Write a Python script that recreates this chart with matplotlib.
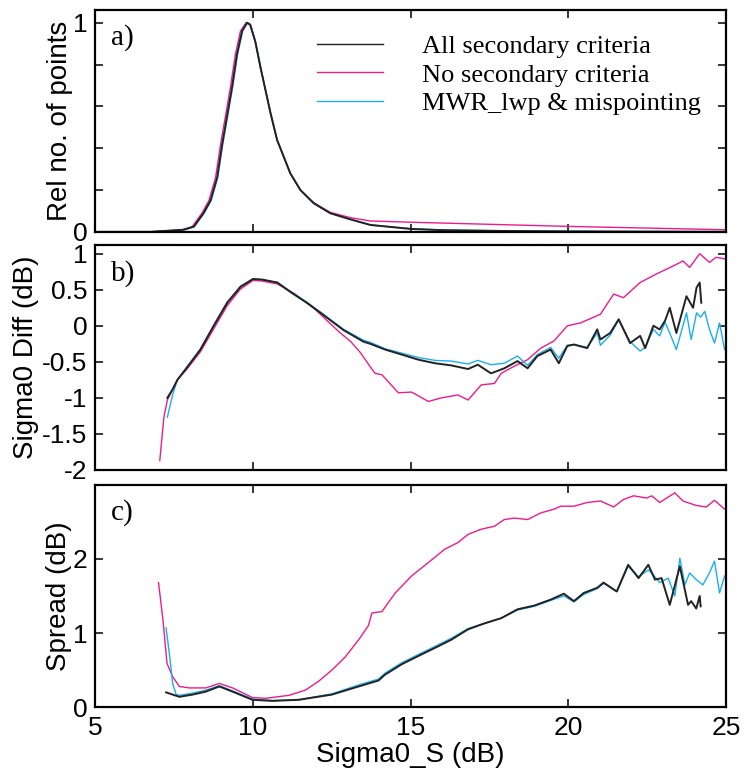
import matplotlib
matplotlib.use("Agg")
import matplotlib.pyplot as plt

# ---------------- data ----------------
# panel a: relative number of points
a_all_x = [5.0, 6.74, 7.8, 8.12, 8.43, 8.65, 8.86, 9.02, 9.17, 9.33, 9.49, 9.65, 9.81, 9.91, 10.07,
           10.23, 10.39, 10.55, 10.76, 10.97, 11.18, 11.5, 11.92, 12.45, 13.08, 13.72, 15.0, 16.0,
           18.0, 20.0, 22.0, 25.0]
a_all_y = [0.0, 0.0, 0.01, 0.025, 0.09, 0.15, 0.26, 0.42, 0.55, 0.69, 0.85, 0.96, 1.0, 0.99, 0.91,
           0.79, 0.68, 0.57, 0.44, 0.36, 0.28, 0.2, 0.137, 0.089, 0.06, 0.033, 0.014, 0.008,
           0.004, 0.002, 0.001, 0.0]
a_no_x = [5.0, 6.7, 7.75, 8.07, 8.38, 8.6, 8.81, 8.97, 9.12, 9.28, 9.44, 9.6, 9.78, 9.9, 10.07,
          10.23, 10.39, 10.55, 10.76, 10.97, 11.18, 11.5, 11.92, 12.45, 13.08, 13.72, 15.0, 17.0,
          20.0, 22.5, 25.0]
a_no_y = [0.0, 0.0, 0.01, 0.025, 0.09, 0.15, 0.26, 0.42, 0.55, 0.69, 0.85, 0.96, 1.0, 0.99, 0.91,
          0.79, 0.68, 0.57, 0.44, 0.36, 0.28, 0.2, 0.14, 0.093, 0.068, 0.052, 0.046, 0.038,
          0.026, 0.018, 0.01]
a_mwr_x = [5.0, 6.76, 7.82, 8.14, 8.45, 8.67, 8.88, 9.04, 9.19, 9.35, 9.51, 9.67, 9.82, 9.92, 10.07,
           10.23, 10.39, 10.55, 10.76, 10.97, 11.18, 11.5, 11.92, 12.45, 13.08, 13.72, 15.0, 16.0,
           18.0, 20.0, 25.0]
a_mwr_y = [0.0, 0.0, 0.01, 0.025, 0.09, 0.15, 0.26, 0.42, 0.55, 0.69, 0.85, 0.96, 1.0, 0.99, 0.91,
           0.79, 0.68, 0.57, 0.44, 0.36, 0.28, 0.2, 0.137, 0.089, 0.06, 0.033, 0.015, 0.009,
           0.005, 0.003, 0.001]

# panel b: Sigma0 difference (dB)
b_all_x = [7.28, 7.45, 7.6, 7.92, 8.33, 8.74, 9.18, 9.6, 10.0, 10.3, 10.77, 11.18, 11.7, 12.23, 12.87,
           13.5, 13.72, 14.19, 14.72, 15.24, 15.77, 16.29, 16.82, 17.13, 17.55, 17.97, 18.39, 18.71,
           19.02, 19.44, 19.7, 19.97, 20.18, 20.6, 20.92, 21.02, 21.33, 21.6, 21.96, 22.28, 22.44,
           22.7, 22.9, 23.07, 23.22, 23.43, 23.75, 23.96, 24.07, 24.17, 24.22]
b_all_y = [-1.0, -0.88, -0.75, -0.57, -0.33, -0.01, 0.32, 0.54, 0.65, 0.64, 0.6, 0.47, 0.32, 0.15, -0.06,
           -0.22, -0.25, -0.33, -0.40, -0.47, -0.52, -0.55, -0.6, -0.54, -0.66, -0.59, -0.49, -0.59,
           -0.42, -0.33, -0.52, -0.28, -0.26, -0.31, -0.05, -0.19, -0.1, 0.09, -0.24, -0.14, -0.31,
           0.0, -0.05, 0.07, 0.25, -0.1, 0.41, 0.25, 0.53, 0.6, 0.32]
b_no_x = [7.04, 7.17, 7.28, 7.45, 7.6, 7.92, 8.33, 8.74, 9.18, 9.6, 10.0, 10.3, 10.77, 11.3, 11.92,
          12.35, 12.77, 13.1, 13.4, 13.72, 13.87, 14.09, 14.61, 15.03, 15.56, 15.98, 16.5, 16.82,
          17.24, 17.66, 17.87, 18.29, 18.71, 19.13, 19.55, 19.97, 20.39, 21.02, 21.44, 21.75, 22.28,
          22.8, 23.33, 23.64, 23.85, 24.17, 24.48, 24.69, 24.96, 25.0]
b_no_y = [-1.87, -1.27, -1.03, -0.88, -0.75, -0.59, -0.36, -0.05, 0.28, 0.51, 0.63, 0.62, 0.58, 0.45, 0.25,
          0.07, -0.1, -0.22, -0.37, -0.57, -0.66, -0.68, -0.93, -0.92, -1.05, -1.0, -0.96, -1.03,
          -0.82, -0.8, -0.66, -0.56, -0.47, -0.31, -0.21, 0.0, 0.04, 0.16, 0.44, 0.39, 0.6,
          0.72, 0.83, 0.9, 0.81, 1.0, 0.88, 0.95, 0.93, 0.92]
b_mwr_x = [7.28, 7.45, 7.6, 7.92, 8.33, 8.74, 9.18, 9.6, 10.0, 10.3, 10.77, 11.18, 11.7, 12.23, 12.87,
           13.5, 13.72, 14.19, 14.72, 15.24, 15.77, 16.29, 16.82, 17.13, 17.55, 17.97, 18.39, 18.71,
           19.02, 19.44, 19.7, 19.97, 20.18, 20.6, 20.92, 21.02, 21.33, 21.6, 21.96, 22.28, 22.44,
           22.7, 22.9, 23.07, 23.22, 23.43, 23.75, 23.9, 24.07, 24.2, 24.33, 24.48, 24.64, 24.8, 24.96]
b_mwr_y = [-1.27, -0.95, -0.75, -0.56, -0.32, 0.0, 0.33, 0.55, 0.65, 0.64, 0.6, 0.48, 0.33, 0.16, -0.05,
           -0.2, -0.23, -0.32, -0.38, -0.44, -0.48, -0.49, -0.53, -0.48, -0.54, -0.52, -0.42, -0.55,
           -0.4, -0.3, -0.45, -0.27, -0.26, -0.3, -0.1, -0.27, -0.13, 0.08, -0.22, -0.35, -0.3,
           -0.05, -0.14, 0.05, -0.1, -0.33, 0.18, -0.19, 0.18, 0.12, 0.2, -0.05, -0.24, 0.04, -0.33]

# panel c: spread (dB)
c_all_x = [7.24, 7.45, 7.66, 8.08, 8.5, 8.93, 9.35, 9.98, 10.61, 11.45, 12.5, 13.35, 13.98, 14.19,
           14.72, 15.24, 15.77, 16.29, 16.82, 17.34, 17.87, 18.39, 18.92, 19.44, 19.86, 20.18, 20.49,
           20.92, 21.12, 21.54, 21.9, 22.23, 22.54, 22.75, 22.96, 23.22, 23.54, 23.8, 23.9, 24.06,
           24.17, 24.2]
c_all_y = [0.2, 0.17, 0.14, 0.17, 0.21, 0.28, 0.21, 0.1, 0.085, 0.1, 0.17, 0.28, 0.36, 0.44,
           0.58, 0.69, 0.8, 0.91, 1.05, 1.13, 1.2, 1.32, 1.37, 1.45, 1.53, 1.43, 1.54,
           1.61, 1.68, 1.56, 1.92, 1.74, 1.92, 1.72, 1.74, 1.38, 1.9, 1.38, 1.43, 1.33,
           1.5, 1.36]
c_no_x = [7.0, 7.14, 7.27, 7.45, 7.66, 7.98, 8.5, 8.93, 9.35, 9.98, 10.4, 11.14, 11.66, 12.08, 12.5,
          12.93, 13.35, 13.66, 13.77, 14.09, 14.51, 15.03, 15.56, 16.08, 16.5, 16.82, 17.24, 17.66,
          17.97, 18.29, 18.71, 19.13, 19.55, 19.76, 20.18, 20.6, 21.02, 21.44, 21.75, 22.07, 22.49,
          22.65, 22.9, 23.38, 23.64, 24.06, 24.38, 24.64, 24.96, 25.0]
c_no_y = [1.68, 1.18, 0.59, 0.41, 0.28, 0.26, 0.26, 0.32, 0.26, 0.13, 0.12, 0.16, 0.23, 0.35, 0.5,
          0.68, 0.91, 1.1, 1.27, 1.29, 1.54, 1.77, 1.95, 2.13, 2.22, 2.33, 2.4, 2.44,
          2.53, 2.55, 2.53, 2.62, 2.67, 2.71, 2.71, 2.76, 2.78, 2.7, 2.8, 2.85, 2.82,
          2.85, 2.76, 2.89, 2.78, 2.72, 2.7, 2.79, 2.67, 2.68]
c_mwr_x = [7.24, 7.35, 7.45, 7.56, 7.66, 8.08, 8.5, 8.93, 9.35, 9.98, 10.61, 11.45, 12.5, 13.35, 13.98,
           14.19, 14.72, 15.24, 15.77, 16.29, 16.82, 17.34, 17.87, 18.39, 18.92, 19.44, 19.86, 20.18,
           20.49, 20.92, 21.12, 21.54, 21.9, 22.23, 22.54, 22.65, 22.9, 23.17, 23.38, 23.54, 23.7,
           23.85, 24.06, 24.27, 24.48, 24.64, 24.8, 24.96]
c_mwr_y = [1.07, 0.7, 0.32, 0.17, 0.16, 0.19, 0.23, 0.29, 0.22, 0.11, 0.09, 0.1, 0.18, 0.3, 0.38,
           0.46, 0.6, 0.71, 0.82, 0.93, 1.06, 1.13, 1.2, 1.31, 1.36, 1.44, 1.5, 1.42,
           1.52, 1.6, 1.67, 1.56, 1.9, 1.76, 1.85, 1.81, 1.68, 1.74, 1.5, 2.01, 1.65,
           1.81, 1.72, 1.65, 1.81, 1.97, 1.54, 1.77]

labels = ["All secondary criteria", "No secondary criteria", "MWR_lwp & mispointing"]
colors = ["#222222", "#ee1b8c", "#1aaef0"]

# ---------------- figure ----------------
SANS = "Liberation Sans"
SERIF = "Liberation Serif"
plt.rcParams["font.family"] = SANS

fig = plt.figure(figsize=(7.46, 7.78), dpi=100)
L, W = 0.128, 0.845
axa = fig.add_axes([L, 0.702, W, 0.285])
axb = fig.add_axes([L, 0.396, W, 0.289])
axc = fig.add_axes([L, 0.091, W, 0.286])

panels = [
    (axa, [(a_all_x, a_all_y), (a_no_x, a_no_y), (a_mwr_x, a_mwr_y)], "a)", "Rel no. of points", -0.035),
    (axb, [(b_all_x, b_all_y), (b_no_x, b_no_y), (b_mwr_x, b_mwr_y)], "b)", "Sigma0 Diff (dB)", -0.09),
    (axc, [(c_all_x, c_all_y), (c_no_x, c_no_y), (c_mwr_x, c_mwr_y)], "c)", "Spread (dB)", -0.037),
]

for ax, series, tag, ylab, lx in panels:
    # draw order: magenta, cyan, black on top
    for idx, lw in [(1, 1.0), (2, 1.0), (0, 1.4)]:
        xs, ys = series[idx]
        ax.plot(xs, ys, color=colors[idx], lw=lw, label=labels[idx])
    ax.set_xlim(5, 25)
    ax.set_xticks([5, 10, 15, 20, 25])
    ax.tick_params(direction="in", top=True, right=True, length=6, width=1.1,
                   labelsize=19, pad=6)
    for s in ax.spines.values():
        s.set_linewidth(1.6)
    ax.text(0.024, 0.935, tag, transform=ax.transAxes, family=SERIF, fontsize=21,
            va="top", ha="left")
    ax.set_ylabel(ylab, fontsize=20)
    ax.yaxis.set_label_coords(lx, 0.5)

axa.set_ylim(0, 1.06)
axa.set_yticks([0, 0.2, 0.4, 0.6, 0.8, 1.0])
axa.set_yticklabels(["0", "", "", "", "", "1"])
axb.set_ylim(-2, 1.12)
axb.set_yticks([-2, -1.5, -1, -0.5, 0, 0.5, 1])
axb.set_yticklabels(["-2", "-1.5", "-1", "-0.5", "0", "0.5", "1"])
axc.set_ylim(0, 3.0)
axc.set_yticks([0, 1, 2])

axa.tick_params(labelbottom=False)
axb.tick_params(labelbottom=False)
axc.set_xlabel("Sigma0_S (dB)", fontsize=20, labelpad=2)

handles = {l.get_label(): l for l in axa.get_lines()}
leg = axa.legend([handles[l] for l in labels], labels, loc="upper left",
                 bbox_to_anchor=(0.352, 0.89), frameon=False,
                 prop={"family": SERIF, "size": 19}, handlelength=2.5,
                 handletextpad=1.45, labelspacing=0.2, borderaxespad=0, borderpad=0)
for h in leg.get_lines():
    h.set_linewidth(1.0)

fig.savefig("out.png", dpi=100)
